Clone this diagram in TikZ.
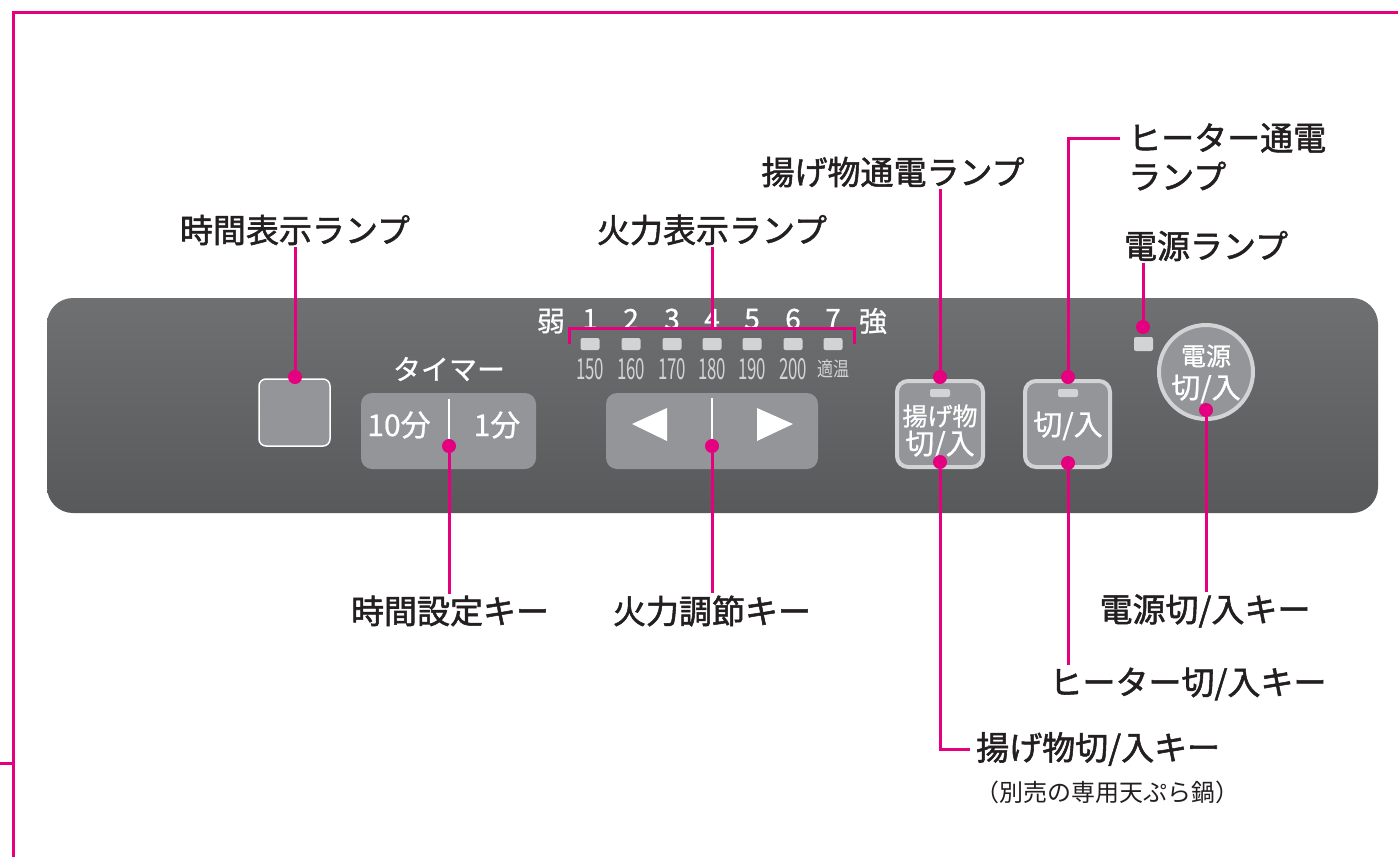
\documentclass[tikz,border=0pt]{standalone}
\usepackage{fontspec}
\usepackage{graphicx}
\newfontfamily\jp{Noto Sans CJK JP}
\newfontfamily\jpm[FakeBold=1.6]{Noto Sans CJK JP}
\newfontfamily\jpw[FakeBold=0.8]{Noto Sans CJK JP}
\definecolor{mag}{HTML}{E4007F}
\definecolor{ink}{HTML}{231F20}
\definecolor{keygray}{HTML}{939598}
\definecolor{lite}{HTML}{D1D3D4}
\definecolor{ptop}{HTML}{6F7072}
\definecolor{pbot}{HTML}{58595B}
\tikzset{
  lbl/.style={font=\jpm\fontsize{33}{36}\selectfont, text=ink, inner sep=2pt},
  sublbl/.style={font=\jp\fontsize{24}{26}\selectfont, text=ink, inner sep=1pt},
  lead/.style={draw=mag, line width=3pt},
  dot/.style={circle, fill=mag, minimum size=14pt, inner sep=0pt},
  framedkey/.style={draw=lite, line width=4pt, fill=keygray, rounded corners=11pt},
  ptext/.style={font=\jpw\fontsize{28}{30}\selectfont, text=white, inner sep=0pt},
  ktext/.style={font=\jpw\fontsize{29}{31}\selectfont, text=white, inner sep=0pt},
  tmp/.style={font=\jp\fontsize{29}{30}\selectfont, text=lite, inner sep=0pt},
  lamp/.style={fill=lite, rounded corners=2pt},
  divider/.style={draw=white, line width=2.5pt},
}
\begin{document}
\begin{tikzpicture}[x=1pt,y=-1pt]
\useasboundingbox (0,0) rectangle (1398,857);
\fill[white] (0,0) rectangle (1398,857);
% outer frame
\draw[lead] (1398,12) -- (13,12) -- (13,857);
\draw[lead] (0,763) -- (13,763);
% panel
\shade[top color=ptop, bottom color=pbot, rounded corners=26pt] (47,298) rectangle (1378,513);
% timer lamp
\draw[draw=white, line width=1.5pt, fill=keygray, rounded corners=7pt] (259,379) rectangle (330,446);
% timer key
\fill[keygray, rounded corners=11pt] (361,393) rectangle (536,469);
\draw[divider] (449,399) -- (449,445);
\node[ptext] (timer) at (449,369) {タイマー};
\node[ktext, font=\jpw\fontsize{30}{32}\selectfont] (t10) at (399,425) {10分};
\node[ktext, font=\jpw\fontsize{30}{32}\selectfont] (t1) at (497,425) {1分};
% fire key
\fill[keygray, rounded corners=11pt] (606,393) rectangle (818,469);
\draw[divider] (712,398) -- (712,445);
\fill[white] (632,424) -- (667,408) -- (667,441) -- cycle;
\fill[white] (793,424) -- (757,408) -- (757,441) -- cycle;
% level lamps
\node[ptext] (weak) at (551,321) {弱};
\node[ptext] (strong) at (873,321) {強};
\foreach \x/\n/\t in {590/1/150,631/2/160,672/3/170,712/4/180,752/5/190,793/6/200} {
  \node[ptext] (n\n) at (\x,319) {\n};
  \fill[lamp] (\x-9.5,338) rectangle (\x+9.5,350);
  \node[tmp] (tp\n) at (\x,369) {\scalebox{0.58}[1]{\t}};
}
\node[ptext] (n7) at (833,319) {7};
\fill[lamp] (823.5,338) rectangle (842.5,350);
\node[tmp] (tp7) at (833,369) {\scalebox{0.8}[1]{\fontsize{20}{22}\selectfont 適温}};
\draw[lead] (569,344) -- (569,328) -- (854,328) -- (854,344);
\coordinate (br) at (712,328);
% agemono key
\draw[framedkey] (897,381) rectangle (983,467);
\fill[lamp] (930,389) rectangle (950,397);
\node[ptext, font=\jpw\fontsize{25}{27}\selectfont] (ag1) at (940,416) {揚げ物};
\node[ktext] (ag2) at (940,445) {切/入};
% heater key
\draw[framedkey] (1025,381) rectangle (1110,467);
\fill[lamp] (1058,389) rectangle (1078,397);
\node[ktext] (ht) at (1068,426) {切/入};
% power lamp
\fill[lamp] (1134,337) rectangle (1153,351);
% power key
\draw[draw=lite, line width=4pt, fill=keygray] (1206,372) circle (47);
\node[ptext, font=\jpw\fontsize{25}{27}\selectfont] (pw1) at (1206,356) {電源};
\node[ktext] (pw2) at (1206,389) {切/入};
% dots
\node[dot] (dLampT) at (295,377) {};
\node[dot] (dTimer) at (449,446) {};
\node[dot] (dFire) at (712,446) {};
\node[dot] (dAgL) at (940,377) {};
\node[dot] (dAgK) at (940,462) {};
\node[dot] (dHtL) at (1068,377) {};
\node[dot] (dHtK) at (1068,463) {};
\node[dot] (dPwL) at (1143,327) {};
\node[dot] (dPwK) at (1206,410) {};
% labels
\node[lbl] (lLampT) at (295,230) {時間表示ランプ};
\node[lbl] (lFireL) at (712,230) {火力表示ランプ};
\node[lbl] (lAgL) at (893,172) {揚げ物通電ランプ};
\node[lbl, anchor=west] (lHtL1) at (1126,138) {ヒーター通電};
\node[lbl, anchor=west] (lHtL2) at (1126,176) {ランプ};
\node[lbl] (lPwL) at (1206,246) {電源ランプ};
\node[lbl] (lTimer) at (450,611) {時間設定キー};
\node[lbl] (lFire) at (712,611) {火力調節キー};
\node[lbl] (lPwK) at (1205,611) {電源切/入キー};
\node[lbl] (lHtK) at (1188,684) {ヒーター切/入キー};
\node[lbl, anchor=west] (lAgK) at (974,749) {揚げ物切/入キー};
\node[sublbl] (lAgSub) at (1107,792) {（別売の専用天ぷら鍋）};
% leaders
\draw[lead] (dLampT) -- (dLampT |- lLampT.south);
\draw[lead] (br) -- (br |- lFireL.south);
\draw[lead] (dAgL) -- (dAgL |- lAgL.south);
\draw[lead] (dHtL) -- (dHtL |- lHtL1.west) -- ([xshift=-6pt]lHtL1.west);
\draw[lead] (dPwL) -- (dPwL |- lPwL.south);
\draw[lead] (dTimer) -- (dTimer |- lTimer.north);
\draw[lead] (dFire) -- (dFire |- lFire.north);
\draw[lead] (dPwK) -- (dPwK |- lPwK.north);
\draw[lead] (dHtK) -- (dHtK |- lHtK.north);
\draw[lead] (dAgK) -- (dAgK |- lAgK.west) -- ([xshift=-4pt]lAgK.west);
\end{tikzpicture}
\end{document}
